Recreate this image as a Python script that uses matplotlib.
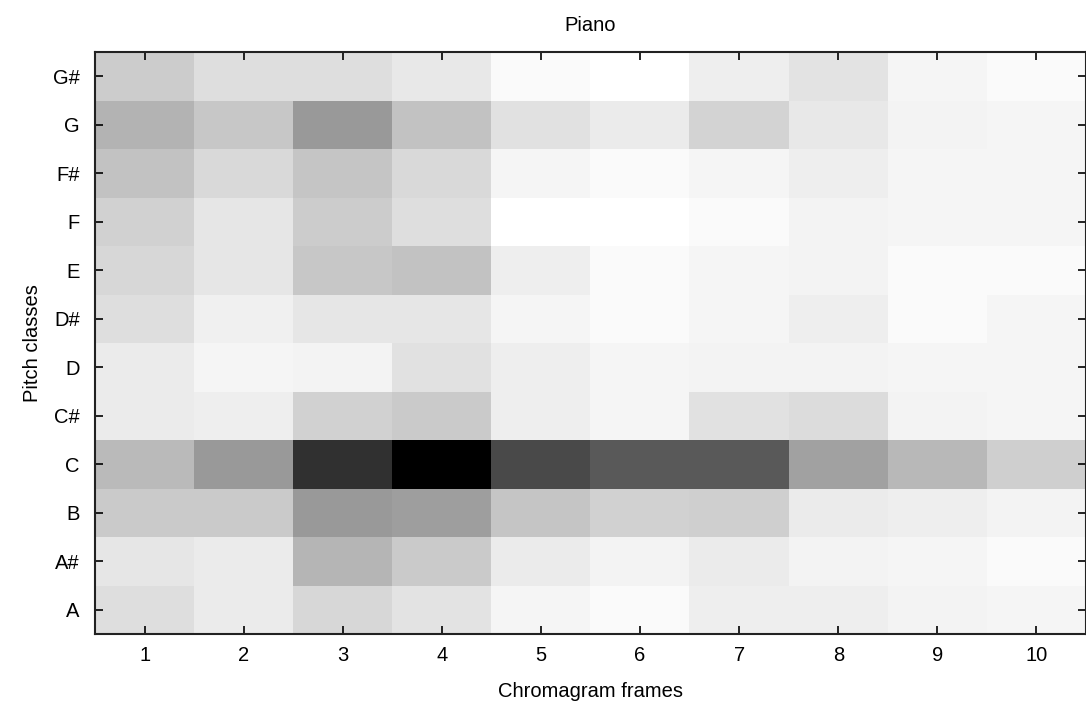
import matplotlib.pyplot as plt
import numpy as np

plt.rcParams['font.family'] = ['Liberation Sans', 'DejaVu Sans']

# pitch classes bottom -> top, chroma energy per frame (1 = strongest)
pitches = ['A', 'A#', 'B', 'C', 'C#', 'D', 'D#', 'E', 'F', 'F#', 'G', 'G#']
frames = [1, 2, 3, 4, 5, 6, 7, 8, 9, 10]

chroma_A  = [0.13, 0.08, 0.16, 0.11, 0.04, 0.02, 0.07, 0.07, 0.05, 0.04]
chroma_As = [0.10, 0.08, 0.29, 0.21, 0.08, 0.05, 0.08, 0.05, 0.04, 0.02]
chroma_B  = [0.21, 0.21, 0.40, 0.38, 0.23, 0.18, 0.19, 0.08, 0.07, 0.05]
chroma_C  = [0.27, 0.40, 0.81, 1.00, 0.71, 0.65, 0.65, 0.37, 0.28, 0.19]
chroma_Cs = [0.08, 0.07, 0.18, 0.21, 0.07, 0.04, 0.12, 0.14, 0.05, 0.04]
chroma_D  = [0.08, 0.04, 0.05, 0.12, 0.07, 0.04, 0.05, 0.05, 0.04, 0.04]
chroma_Ds = [0.13, 0.06, 0.10, 0.10, 0.04, 0.02, 0.04, 0.07, 0.02, 0.04]
chroma_E  = [0.16, 0.10, 0.22, 0.24, 0.07, 0.02, 0.04, 0.05, 0.02, 0.02]
chroma_F  = [0.18, 0.10, 0.20, 0.13, 0.00, 0.00, 0.02, 0.05, 0.04, 0.04]
chroma_Fs = [0.24, 0.15, 0.23, 0.15, 0.04, 0.02, 0.04, 0.07, 0.04, 0.04]
chroma_G  = [0.30, 0.22, 0.40, 0.24, 0.12, 0.08, 0.17, 0.09, 0.05, 0.04]
chroma_Gs = [0.20, 0.13, 0.13, 0.09, 0.02, 0.00, 0.07, 0.11, 0.04, 0.02]

chroma = np.array([chroma_A, chroma_As, chroma_B, chroma_C, chroma_Cs, chroma_D,
                   chroma_Ds, chroma_E, chroma_F, chroma_Fs, chroma_G, chroma_Gs])

fig = plt.figure(figsize=(10.86, 7.13), dpi=100)
ax = fig.add_axes([0.0875, 0.111, 0.9125, 0.816])

ax.imshow(chroma, cmap='gray_r', vmin=0, vmax=1, aspect='auto', origin='lower',
          interpolation='nearest',
          extent=(0.5, len(frames) + 0.5, 0.5, len(pitches) + 0.5))

ax.set_xticks(frames)
ax.set_yticks(np.arange(1, len(pitches) + 1))
ax.set_yticklabels(pitches)
ax.tick_params(direction='in', length=6, width=1.2, top=True, right=True,
               labelsize=14.5)
ax.tick_params(axis='x', pad=9)
ax.tick_params(axis='y', pad=11)
for s in ax.spines.values():
    s.set_linewidth(1.5)
    s.set_color('#222222')

ax.set_title('Piano', fontsize=14.5, pad=15)
ax.set_xlabel('Chromagram frames', fontsize=14.5, labelpad=12)
ax.set_ylabel('Pitch classes', fontsize=14.5, labelpad=8)

fig.savefig('out.png', dpi=100)
